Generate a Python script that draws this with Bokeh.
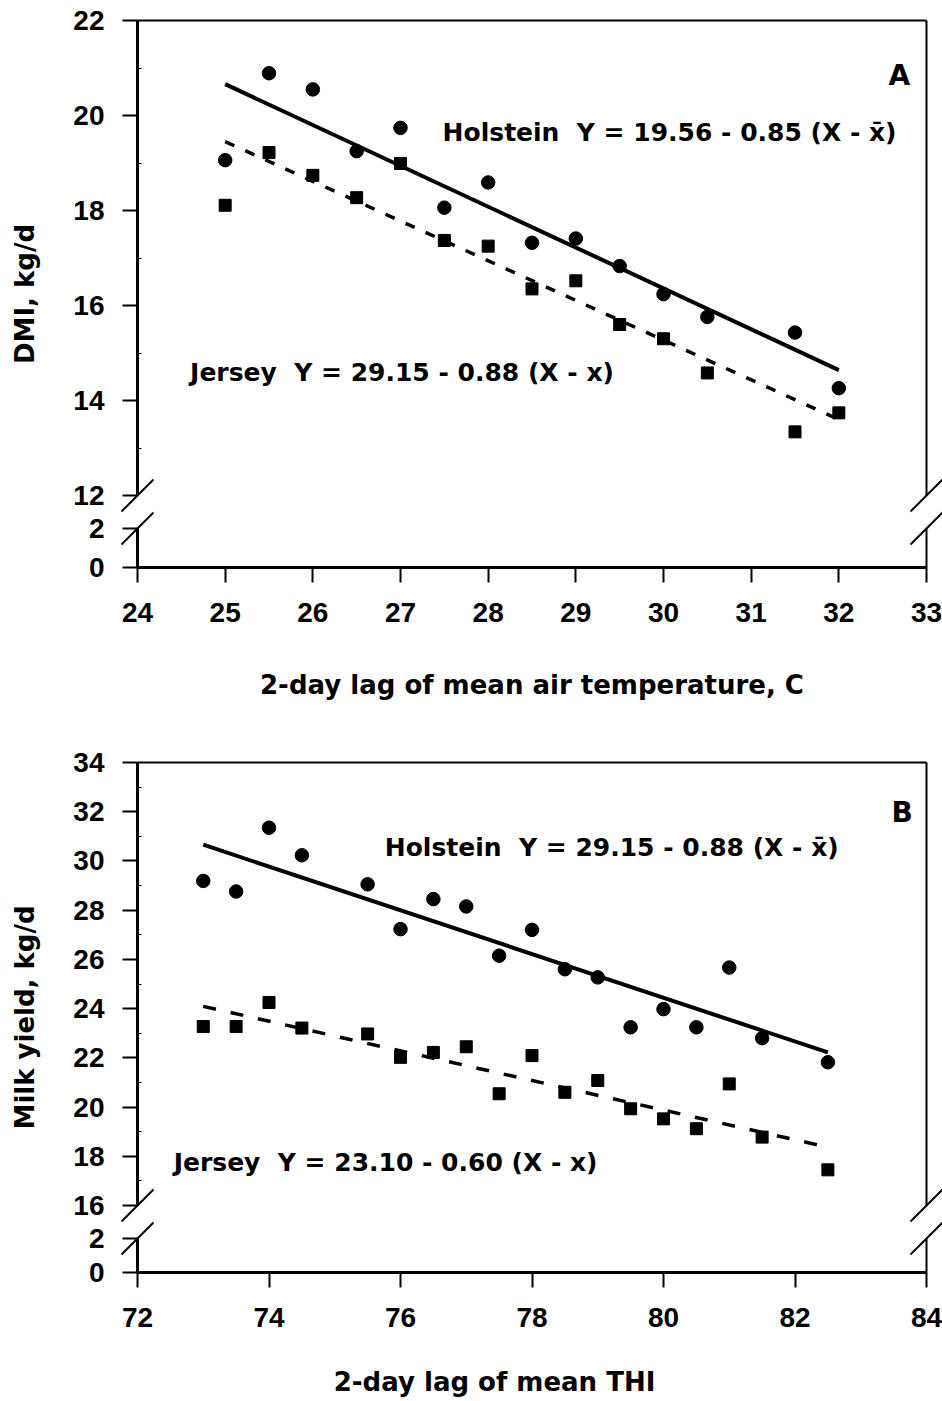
from bokeh.plotting import figure
from bokeh.layouts import column
from bokeh.models import FixedTicker, CustomJSTickFormatter, Label, Range1d, LinearAxis
from bokeh.embed import file_html
from bokeh.resources import INLINE

# ---------------- data (panel A) ----------------
temp_x = [25, 25.5, 26, 26.5, 27, 27.5, 28, 28.5, 29, 29.5, 30, 30.5, 31.5, 32]
holstein_dmi = [19.06, 20.89, 20.55, 19.25, 19.74, 18.06, 18.59, 17.32, 17.41, 16.83, 16.24, 15.76, 15.43, 14.26]
jersey_dmi = [18.11, 19.22, 18.74, 18.27, 18.99, 17.37, 17.25, 16.35, 16.52, 15.60, 15.30, 14.58, 13.34, 13.74]
fit_x_a = [25, 32]
holstein_fit_a = [20.66, 14.64]
jersey_fit_a = [19.45, 13.60]
x_ticks_a = [24, 25, 26, 27, 28, 29, 30, 31, 32, 33]
y_ticks_upper_a = [12, 14, 16, 18, 20, 22]
y_minor_a = [13, 15, 17, 19, 21]
y_ticks_lower_a = [0, 2]

# ---------------- data (panel B) ----------------
thi_x = [73, 73.5, 74, 74.5, 75.5, 76, 76.5, 77, 77.5, 78, 78.5, 79, 79.5, 80, 80.5, 81, 81.5, 82.5]
holstein_milk = [29.19, 28.76, 31.35, 30.23, 29.05, 27.23, 28.45, 28.15, 26.15, 27.20, 25.60, 25.27, 23.24, 23.98, 23.24, 25.67, 22.80, 21.82]
jersey_milk = [23.27, 23.27, 24.25, 23.21, 22.97, 22.02, 22.22, 22.45, 20.54, 22.09, 20.60, 21.08, 19.93, 19.52, 19.12, 20.94, 18.78, 17.45]
fit_x_b = [73, 82.5]
holstein_fit_b = [30.66, 22.22]
jersey_fit_b = [24.09, 18.37]
x_ticks_b = [72, 74, 76, 78, 80, 82, 84]
y_ticks_upper_b = [16, 18, 20, 22, 24, 26, 28, 30, 32, 34]
y_minor_b = [17, 19, 21, 23, 25, 27, 29, 31, 33]
y_ticks_lower_b = [0, 2]

TICK_FONT = "Liberation Sans"
TEXT_FONT = "DejaVu Sans"
BLACK = "#000000"

W = 942
LEFT, RIGHT, TOP = 137, 16, 20          # plot-area margins inside each canvas
FRAME_W = W - LEFT - RIGHT


def make_panel(x_lim, x_ticks, up_ticks, minor, low_ticks, frame_h, gap_px, low_px,
               height, ylabel, xs, hol, jer, fx, hfit, jfit, dash,
               eq_h, eq_j, letter, xtitle, use_axis_title):
    x0, x1 = x_lim
    lo, hi = up_ticks[0], up_ticks[-1]
    k = (frame_h - gap_px - low_px) / (hi - lo)          # px per y unit (upper part)
    pxu = FRAME_W / (x1 - x0)                           # px per x unit
    start = lo - (gap_px + low_px) / k                  # virtual y of the "0" line
    low_max = low_ticks[-1]
    low_pos = [start + v / low_max * low_px / k for v in low_ticks]
    bottom_px = height - TOP - frame_h

    p = figure(width=W, height=height,
               x_range=Range1d(x0 - LEFT / pxu, x1 + RIGHT / pxu),
               y_range=Range1d(start - bottom_px / k, hi + TOP / k),
               x_axis_location=None, y_axis_location=None,
               output_backend="svg", toolbar_location=None)
    p.min_border = 0
    p.outline_line_color = None
    p.grid.visible = False

    # ---- x axis (fixed on the zero line) ----
    ax = LinearAxis(fixed_location=start, bounds=(x0, x1))
    ax.ticker = FixedTicker(ticks=x_ticks)
    ax.major_tick_out = 15
    ax.major_tick_in = 0
    ax.minor_tick_line_color = None
    ax.axis_line_width = 3
    ax.major_tick_line_width = 2
    ax.major_label_standoff = 20
    ax.major_label_text_font = TICK_FONT
    ax.major_label_text_font_style = "bold"
    ax.major_label_text_font_size = "28px"
    ax.major_label_text_color = BLACK
    if use_axis_title:
        ax.axis_label = xtitle[2]
        ax.axis_label_text_font = TEXT_FONT
        ax.axis_label_text_font_style = "bold"
        ax.axis_label_text_font_size = "26px"
        ax.axis_label_text_color = BLACK
        ax.axis_label_standoff = 45
    p.add_layout(ax, "below")

    # ---- y axis (broken; fixed on the left edge) ----
    ay = LinearAxis(fixed_location=x0, bounds=(start, hi))
    ay.ticker = FixedTicker(ticks=low_pos + up_ticks, minor_ticks=minor)
    ay.formatter = CustomJSTickFormatter(
        args=dict(pos=low_pos, labs=[str(v) for v in low_ticks]), code="""
        for (let i = 0; i < pos.length; i++) { if (Math.abs(pos[i] - tick) < 1e-6) return labs[i]; }
        return tick.toFixed(0);
    """)
    ay.axis_line_color = None
    ay.major_tick_out = 15
    ay.major_tick_in = 0
    ay.major_tick_line_width = 2
    ay.minor_tick_in = 4
    ay.minor_tick_out = 0
    ay.minor_tick_line_width = 1
    ay.major_label_standoff = 18
    ay.major_label_text_font = TICK_FONT
    ay.major_label_text_font_style = "bold"
    ay.major_label_text_font_size = "28px"
    ay.major_label_text_color = BLACK
    ay.axis_label = ylabel
    ay.axis_label_text_font = TEXT_FONT
    ay.axis_label_text_font_style = "bold"
    ay.axis_label_text_font_size = "26px"
    ay.axis_label_text_color = BLACK
    ay.axis_label_standoff = 30
    p.add_layout(ay, "left")

    # ---- frame lines with axis breaks ----
    d_x = 16 / pxu
    d_y = 16 / k
    seg_x0, seg_y0, seg_x1, seg_y1, seg_w = [], [], [], [], []
    for xx, w in ((x0, 3), (x1, 2)):
        seg_x0 += [xx, xx]; seg_x1 += [xx, xx]
        seg_y0 += [lo, start]; seg_y1 += [hi, low_pos[-1]]
        seg_w += [w, w]
        for yy in (lo, low_pos[-1]):
            seg_x0.append(xx - d_x); seg_x1.append(xx + d_x)
            seg_y0.append(yy - d_y); seg_y1.append(yy + d_y)
            seg_w.append(2)
    seg_x0.append(x0); seg_x1.append(x1); seg_y0.append(hi); seg_y1.append(hi); seg_w.append(2)
    p.segment(x0=seg_x0, y0=seg_y0, x1=seg_x1, y1=seg_y1, line_width=seg_w, line_color=BLACK)

    # ---- data ----
    p.line(fx, hfit, line_color=BLACK, line_width=4)
    p.line(fx, jfit, line_color=BLACK, line_width=3.5, line_dash=dash)
    p.scatter(xs, hol, marker="circle", size=13.5, color=BLACK)
    p.scatter(xs, jer, marker="square", size=12, color=BLACK)

    for (tx, ty, txt) in (eq_h, eq_j):
        p.add_layout(Label(x=tx, y=ty, text=txt, text_font=TEXT_FONT, text_font_style="bold",
                           text_font_size="25px", text_baseline="middle", text_align="left",
                           text_color=BLACK))
    p.add_layout(Label(x=letter[0], y=letter[1], text=letter[2], text_font=TEXT_FONT,
                       text_font_style="bold", text_font_size="28px", text_baseline="middle",
                       text_align="center", text_color=BLACK))
    if not use_axis_title:
        p.add_layout(Label(x=xtitle[0], y=start - xtitle[1] / k, text=xtitle[2], text_font=TEXT_FONT,
                           text_font_style="bold", text_font_size="26px", text_baseline="middle",
                           text_align="center", text_color=BLACK))
    return p


pa = make_panel((24, 33), x_ticks_a, y_ticks_upper_a, y_minor_a, y_ticks_lower_a,
                547, 33, 39, 742, "DMI, kg/d", temp_x, holstein_dmi, jersey_dmi,
                fit_x_a, holstein_fit_a, jersey_fit_a, "10 12",
                (27.48, 19.64, "Holstein\u00a0 Y = 19.56 - 0.85 (X - x\u0304)"),
                (24.60, 14.58, "Jersey\u00a0 Y = 29.15 - 0.88 (X - x)"),
                (32.69, 20.84, "A"),
                (28.5, 118, "2-day lag of mean air temperature, C"), True)

pb = make_panel((72, 84), x_ticks_b, y_ticks_upper_b, y_minor_b, y_ticks_lower_b,
                510, 33, 34, 659, "Milk yield, kg/d", thi_x, holstein_milk, jersey_milk,
                fit_x_b, holstein_fit_b, jersey_fit_b, "13 15",
                (75.76, 30.53, "Holstein\u00a0 Y = 29.15 - 0.88 (X - x\u0304)"),
                (72.55, 17.75, "Jersey\u00a0 Y = 23.10 - 0.60 (X - x)"),
                (83.63, 31.98, "B"),
                (77.43, 109, "2-day lag of mean THI"), False)

layout = column(pa, pb, spacing=0)
open("out.html", "w").write(file_html(layout, INLINE))
